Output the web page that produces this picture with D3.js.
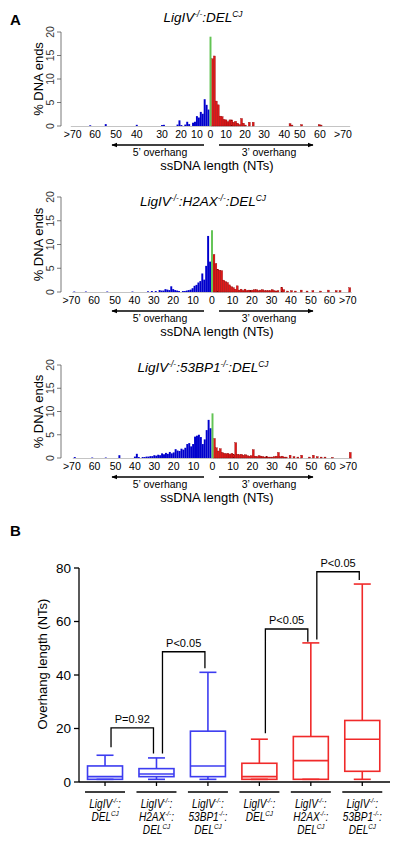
<!DOCTYPE html>
<html><head><meta charset="utf-8">
<script src="https://cdn.jsdelivr.net/npm/d3@7"></script>
<style>body{margin:0;background:#fff} text{font-family:Arial,"Liberation Sans",sans-serif}</style>
</head><body><svg id="c" width="400" height="843"></svg>
<script>
// ---------- DATA ----------
const ntTickLabels = [">70","60","50","40","30","20","10","0","10","20","30","40","50","60",">70"];
const ntTickPosA  = [-71,-59.5,-48.7,-38,-25,-15.2,-7,0,8,17.8,27.6,38,46,56.4,68.3];
const ntTickPosBC = [-72.5,-60.8,-50,-40,-30,-20,-9.8,0,10.6,20.6,30.7,40.7,51,60.6,70];
const pctTicks = [0,5,10,15,20];

const histTitles = ["LigIV^{-/-}:DEL^{CJ}", "LigIV^{-/-}:H2AX^{-/-}:DEL^{CJ}", "LigIV^{-/-}:53BP1^{-/-}:DEL^{CJ}"];

// [ssDNA length (NT, negative = 5' overhang), % DNA ends]
const h1Blue = [[-62,0.15],[-54,0.4],[-38,0.25],[-25,0.2],[-24,0.25],[-17,0.3],[-16,1.2],[-15,0.2],[-13,0.3],[-12,0.9],[-11,0.4],[-9,0.7],[-8,0.9],[-7,2.1],[-6,1.8],[-5,3.0],[-4,2.6],[-3,5.7],[-2,4.5],[-1,3.5]];
const h1Green = 19.0;
const h1Red = [[1,14.3],[2,14.9],[3,5.3],[4,4.5],[5,2.1],[6,2.0],[7,1.4],[8,1.3],[9,0.9],[10,1.3],[11,1.3],[12,0.8],[13,1.0],[14,0.6],[15,0.3],[16,1.6],[17,0.6],[18,0.2],[20,0.8],[22,0.8],[41,0.5],[42,0.2],[47,0.3],[56,0.3],[57,0.2]];

const h2Blue = [[-71,0.1],[-65,0.1],[-54,0.1],[-41,0.1],[-33,0.15],[-31,0.2],[-29,0.2],[-27,0.4],[-26,0.3],[-25,0.3],[-24,0.6],[-23,0.5],[-22,0.4],[-21,1.2],[-20,0.6],[-19,0.4],[-18,0.3],[-17,0.2],[-15,0.2],[-14,0.2],[-13,0.3],[-12,0.4],[-11,0.5],[-10,0.8],[-9,1.3],[-8,1.5],[-7,2.0],[-6,2.3],[-5,3.9],[-4,2.6],[-3,5.5],[-2,11.8],[-1,6.4]];
const h2Green = 13.0;
const h2Red = [[1,7.9],[2,6.0],[3,4.8],[4,4.6],[5,4.5],[6,2.5],[7,2.2],[8,2.0],[9,1.5],[10,1.1],[11,0.9],[12,0.6],[13,1.3],[14,0.4],[15,0.6],[16,0.3],[17,0.6],[18,0.3],[19,0.4],[20,0.3],[21,0.4],[22,0.5],[23,0.5],[24,0.3],[25,0.4],[26,0.5],[27,0.3],[28,0.3],[29,0.3],[30,0.3],[31,0.5],[32,0.3],[33,0.2],[34,0.3],[36,1.0],[37,0.5],[39,0.2],[41,0.3],[43,0.2],[46,0.4],[49,0.2],[52,0.3],[56,0.2],[60,0.4],[64,0.3],[66,0.3],[71,0.9]];

const h3Blue = [[-71,0.2],[-62,0.1],[-55,0.1],[-48,0.6],[-40,0.3],[-39,0.9],[-38,0.2],[-36,0.2],[-35,0.2],[-34,0.3],[-33,0.3],[-32,0.4],[-31,0.4],[-30,0.6],[-29,0.5],[-28,0.7],[-27,0.6],[-26,1.0],[-25,0.8],[-24,1.1],[-23,0.9],[-22,1.3],[-21,1.0],[-20,1.2],[-19,1.9],[-18,1.6],[-17,1.5],[-16,2.0],[-15,1.8],[-14,2.2],[-13,3.0],[-12,3.2],[-11,2.5],[-10,3.0],[-9,4.6],[-8,4.8],[-7,5.0],[-6,4.5],[-5,3.0],[-4,4.0],[-3,6.0],[-2,8.2],[-1,6.4]];
const h3Green = 9.6;
const h3Red = [[1,4.2],[2,2.2],[3,1.5],[4,2.0],[5,1.2],[6,1.0],[7,0.9],[8,1.0],[9,0.8],[10,1.0],[11,0.7],[12,3.3],[13,0.8],[14,0.7],[15,0.8],[16,0.6],[17,0.7],[18,0.5],[19,0.4],[20,0.5],[21,1.8],[22,0.4],[23,0.3],[24,0.5],[25,0.4],[26,0.3],[27,0.2],[28,0.3],[29,0.2],[30,0.2],[31,0.2],[32,0.3],[33,0.4],[34,1.2],[35,0.3],[36,0.4],[37,0.2],[38,0.2],[40,0.6],[42,0.3],[44,0.2],[46,0.6],[50,0.2],[52,0.6],[54,0.3],[56,0.2],[58,0.2],[62,0.1],[71,1.2]];

// Panel B: box plots (overhang length, NTs)
const boxLabels = [
  ["LigIV^{-/-}:","DEL^{CJ}"],
  ["LigIV^{-/-}:","H2AX^{-/-}:","DEL^{CJ}"],
  ["LigIV^{-/-}:","53BP1^{-/-}:","DEL^{CJ}"],
  ["LigIV^{-/-}:","DEL^{CJ}"],
  ["LigIV^{-/-}:","H2AX^{-/-}:","DEL^{CJ}"],
  ["LigIV^{-/-}:","53BP1^{-/-}:","DEL^{CJ}"]
];
const boxSeries = ["blue","blue","blue","red","red","red"];
const boxMin    = [1,1,1,1,1,1];
const boxQ1     = [1,2,2,1,1,4];
const boxMedian = [2,3,6,2,8,16];
const boxQ3     = [6,5,19,7,17,23];
const boxMax    = [10,9,41,16,52,74];
const boxYTicks = [0,20,40,60,80];
// significance brackets: group a, group b, bracket top, left leg bottom, right leg bottom, label
const bracketA = [0,1,3,4];
const bracketB = [1,2,4,5];
const bracketTop = [20.2,48.7,57.2,78.6];
const bracketLegA = [13,10.7,18.2,53.3];
const bracketLegB = [10.7,42.5,52.4,75.5];
const bracketLabels = ["P=0.92","P<0.05","P<0.05","P<0.05"];

// ---------- DRAW ----------
const svg = d3.select("#c");

function rich(sel, str, size){
  const parts = str.split(/(\^\{[^}]*\})/).filter(s=>s.length);
  let sup=false;
  parts.forEach(p=>{
    if(p.startsWith("^{")){
      sel.append("tspan").attr("font-size", size*0.62).attr("dy", -size*0.4).text(p.slice(2,-1));
      sup=true;
    } else {
      const t = sel.append("tspan").attr("font-size", size).text(p);
      if(sup){ t.attr("dy", size*0.4); sup=false; }
    }
  });
}

svg.append("defs").append("marker").attr("id","ah").attr("viewBox","0 0 10 10")
  .attr("refX",9).attr("refY",5).attr("markerWidth",6).attr("markerHeight",6)
  .attr("markerUnits","userSpaceOnUse").attr("orient","auto-start-reverse")
  .append("path").attr("d","M0,1 L10,5 L0,9 Z").attr("fill","#000");

svg.append("text").attr("x",10).attr("y",25).attr("font-size",15).attr("font-weight","bold").text("A");

const histCfg = [
  {blue:h1Blue, green:h1Green, red:h1Red, zero:210.5, base:126, top:32, ticks:ntTickPosA, title:histTitles[0], titleY:22},
  {blue:h2Blue, green:h2Green, red:h2Red, zero:212, base:292, top:197, ticks:ntTickPosBC, title:histTitles[1], titleY:206},
  {blue:h3Blue, green:h3Green, red:h3Red, zero:212.5, base:458, top:365, ticks:ntTickPosBC, title:histTitles[2], titleY:372}
];

histCfg.forEach(c=>{
  const g = svg.append("g");
  const x = d3.scaleLinear().domain([-72,72]).range([c.zero-72*1.94, c.zero+72*1.94]);
  const y = d3.scaleLinear().domain([0,20]).range([c.base, c.top]);
  g.append("line").attr("x1",x(-72)).attr("x2",x(72)).attr("y1",c.base+0.5).attr("y2",c.base+0.5)
    .attr("stroke","#aaa").attr("stroke-width",0.7);
  const drawBars=(data,fill,stroke)=>{
    g.selectAll(null).data(data).enter().append("rect")
      .attr("x",d=>x(d[0]-0.5)).attr("width",d=>x(d[0]+0.5)-x(d[0]-0.5))
      .attr("y",d=>y(d[1])).attr("height",d=>c.base-y(d[1]))
      .attr("fill",fill).attr("stroke",stroke).attr("stroke-width",stroke?0.35:0);
  };
  drawBars(c.blue,"#0000cc",null);
  drawBars(c.red,"#e01818","#8b0000");
  drawBars([[0,c.green]],"#62c454",null);
  const ax=61;
  g.append("line").attr("x1",ax).attr("x2",ax).attr("y1",y(0)).attr("y2",y(20)).attr("stroke","#555").attr("stroke-width",0.8);
  pctTicks.forEach(t=>{
    g.append("line").attr("x1",ax-4).attr("x2",ax).attr("y1",y(t)).attr("y2",y(t)).attr("stroke","#555").attr("stroke-width",0.8);
    g.append("text").attr("transform",`translate(${ax-7},${y(t)}) rotate(-90)`).attr("text-anchor","middle")
      .attr("font-size",10.5).attr("fill","#333").text(t);
  });
  g.append("text").attr("transform",`translate(43,${(c.base+c.top)/2}) rotate(-90)`).attr("text-anchor","middle")
    .attr("font-size",13).text("% DNA ends");
  c.ticks.forEach((p,i)=>{
    g.append("text").attr("x",x(p)).attr("y",c.base+12).attr("text-anchor","middle").attr("font-size",10.5)
      .text(ntTickLabels[i]);
  });
  const ay=c.base+19;
  g.append("line").attr("x1",204).attr("x2",112).attr("y1",ay).attr("y2",ay).attr("stroke","#000").attr("stroke-width",1.3).attr("marker-end","url(#ah)");
  g.append("line").attr("x1",219).attr("x2",313).attr("y1",ay).attr("y2",ay).attr("stroke","#000").attr("stroke-width",1.3).attr("marker-end","url(#ah)");
  g.append("text").attr("x",160).attr("y",c.base+30).attr("text-anchor","middle").attr("font-size",10.5).text("5\u2019 overhang");
  g.append("text").attr("x",269).attr("y",c.base+30).attr("text-anchor","middle").attr("font-size",10.5).text("3\u2019 overhang");
  g.append("text").attr("x",217).attr("y",c.base+44).attr("text-anchor","middle").attr("font-size",13).text("ssDNA length (NTs)");
  const tt = g.append("text").attr("x",203).attr("y",c.titleY).attr("text-anchor","middle").attr("font-style","italic");
  rich(tt, c.title, 13.5);
});

// ---------- Panel B ----------
svg.append("text").attr("x",10).attr("y",536).attr("font-size",15).attr("font-weight","bold").text("B");
const bx = d3.scaleBand().domain(d3.range(boxLabels.length)).range([79.3,388]);
const by = d3.scaleLinear().domain([0,80]).range([782,568]);
const gB = svg.append("g");
const cx = i => bx(i)+bx.bandwidth()/2;
const colorOf = s => s==="blue" ? "#3c3cf0" : "#f02a2a";
gB.append("line").attr("x1",79).attr("x2",79).attr("y1",by(0)).attr("y2",by(80)).attr("stroke","#000").attr("stroke-width",1.3);
gB.append("line").attr("x1",79).attr("x2",390).attr("y1",by(0)).attr("y2",by(0)).attr("stroke","#000").attr("stroke-width",1.3);
boxYTicks.forEach(t=>{
  gB.append("line").attr("x1",74).attr("x2",79).attr("y1",by(t)).attr("y2",by(t)).attr("stroke","#000").attr("stroke-width",1.3);
  gB.append("text").attr("x",71).attr("y",by(t)).attr("dy","0.35em").attr("text-anchor","end").attr("font-size",13.5).text(t);
});
gB.append("text").attr("transform",`translate(47,${by(40)-11}) rotate(-90)`).attr("text-anchor","middle").attr("font-size",13).text("Overhang length (NTs)");
d3.range(boxLabels.length).forEach(i=>{
  gB.append("line").attr("x1",cx(i)).attr("x2",cx(i)).attr("y1",by(0)).attr("y2",by(0)+4).attr("stroke","#000").attr("stroke-width",1.3);
});
const bw=35, cw=17;
d3.range(boxLabels.length).forEach(i=>{
  const col=colorOf(boxSeries[i]), c=cx(i);
  const gg=gB.append("g").attr("stroke",col).attr("stroke-width",1.6).attr("fill","none");
  gg.append("line").attr("x1",c).attr("x2",c).attr("y1",by(boxQ3[i])).attr("y2",by(boxMax[i]));
  gg.append("line").attr("x1",c).attr("x2",c).attr("y1",by(boxQ1[i])).attr("y2",by(boxMin[i]));
  gg.append("line").attr("x1",c-cw/2).attr("x2",c+cw/2).attr("y1",by(boxMax[i])).attr("y2",by(boxMax[i]));
  gg.append("line").attr("x1",c-cw/2).attr("x2",c+cw/2).attr("y1",by(boxMin[i])).attr("y2",by(boxMin[i]));
  gg.append("rect").attr("x",c-bw/2).attr("width",bw).attr("y",by(boxQ3[i])).attr("height",by(boxQ1[i])-by(boxQ3[i]));
  gg.append("line").attr("x1",c-bw/2).attr("x2",c+bw/2).attr("y1",by(boxMedian[i])).attr("y2",by(boxMedian[i]));
  gB.append("line").attr("x1",c-20).attr("x2",c+20).attr("y1",792).attr("y2",792).attr("stroke","#000").attr("stroke-width",1.3);
  boxLabels[i].forEach((ln,j)=>{
    const t=gB.append("text").attr("transform",`translate(${c},${808+j*13}) scale(0.84,1)`)
      .attr("text-anchor","middle").attr("font-style","italic");
    rich(t, ln, 12);
  });
});
bracketLabels.forEach((lab,k)=>{
  const xa=cx(bracketA[k])+6, xb=cx(bracketB[k])-3;
  gB.append("path").attr("d",`M${xa},${by(bracketLegA[k])}V${by(bracketTop[k])}H${xb}V${by(bracketLegB[k])}`)
    .attr("fill","none").attr("stroke","#000").attr("stroke-width",1.3);
  gB.append("text").attr("x",(xa+xb)/2).attr("y",by(bracketTop[k])-5).attr("text-anchor","middle").attr("font-size",11).text(lab);
});
</script></body></html>
